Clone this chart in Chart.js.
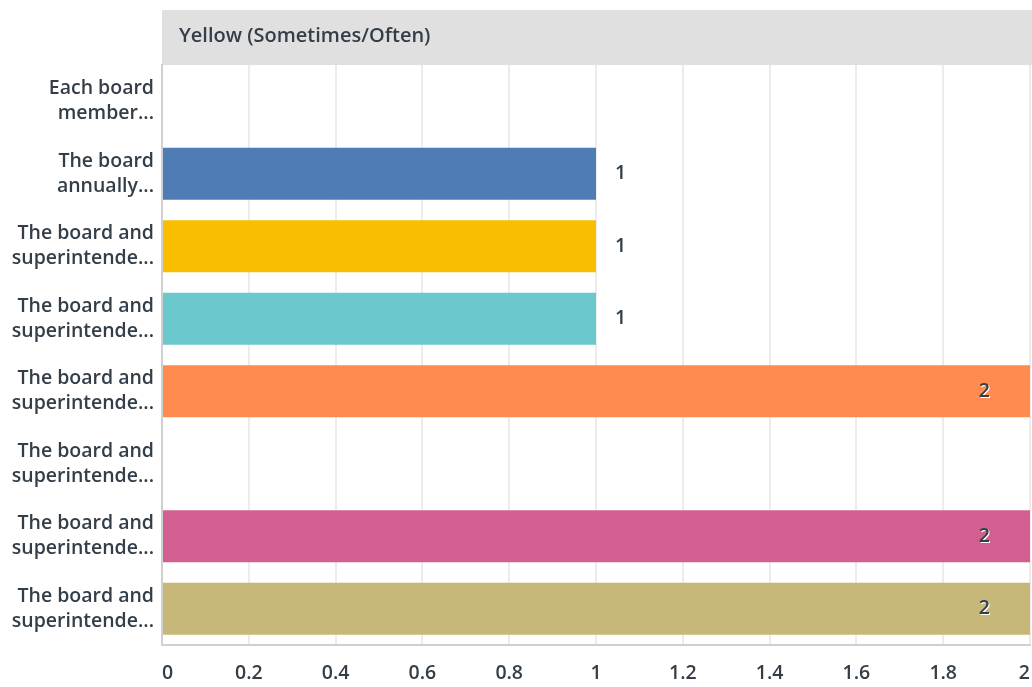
<!DOCTYPE html>
<html>
<head>
<meta charset="utf-8">
<script src="https://cdn.jsdelivr.net/npm/chart.js@4/dist/chart.umd.min.js"></script>
<style>
  html, body { margin: 0; padding: 0; background: #fff; }
  #wrap { width: 1032px; height: 687px; }
</style>
</head>
<body>
<div id="wrap"><canvas id="c"></canvas></div>
<script>
const categories = [
  ["Each board", "member..."],
  ["The board", "annually..."],
  ["The board and", "superintende..."],
  ["The board and", "superintende..."],
  ["The board and", "superintende..."],
  ["The board and", "superintende..."],
  ["The board and", "superintende..."],
  ["The board and", "superintende..."]
];
const counts = [0, 1, 1, 1, 2, 0, 2, 2];
const barColors = ["#507cb6", "#507cb6", "#f9be00", "#6bc8cd", "#ff8b4f", "#7e6bb0", "#d25f90", "#c7b879"];
const groupTitle = "Yellow (Sometimes/Often)";
const xTicks = [0, 0.2, 0.4, 0.6, 0.8, 1, 1.2, 1.4, 1.6, 1.8, 2];

const FONT = "'Open Sans', sans-serif";
const INK = "#333e48";

// gray band holding the group name above the plot
const headerBand = {
  id: "headerBand",
  beforeDraw(chart) {
    const { ctx, chartArea } = chart;
    ctx.save();
    ctx.fillStyle = "#e0e0e0";
    ctx.fillRect(chartArea.left, 10, chart.width - chartArea.left, chartArea.top - 10);
    ctx.fillStyle = INK;
    ctx.font = "600 20px " + FONT;
    ctx.textBaseline = "middle";
    ctx.fillText(groupTitle, chartArea.left + 17, 36);
    ctx.restore();
  }
};

// count labels: outside short bars, inside (with white halo) when the bar reaches the edge
const valueLabels = {
  id: "valueLabels",
  afterDatasetsDraw(chart) {
    const { ctx, chartArea } = chart;
    const meta = chart.getDatasetMeta(0);
    ctx.save();
    ctx.font = "600 19.5px " + FONT;
    ctx.textBaseline = "middle";
    meta.data.forEach((bar, i) => {
      const v = counts[i];
      if (!v) return;
      const txt = String(v);
      if (bar.x > chartArea.right - 40) {
        ctx.textAlign = "right";
        const x = bar.x - 40, y = bar.y;
        ctx.fillStyle = "#ffffff";
        ctx.fillText(txt, x + 1, y + 1);
        ctx.fillStyle = INK;
        ctx.fillText(txt, x, y);
      } else {
        ctx.textAlign = "left";
        ctx.fillStyle = INK;
        ctx.fillText(txt, bar.x + 19, bar.y);
      }
    });
    ctx.restore();
  }
};

new Chart(document.getElementById("c"), {
  type: "bar",
  data: {
    labels: categories,
    datasets: [{
      data: counts,
      backgroundColor: barColors,
      borderWidth: 0,
      categoryPercentage: 0.72,
      barPercentage: 1
    }]
  },
  options: {
    indexAxis: "y",
    responsive: true,
    maintainAspectRatio: false,
    animation: false,
    layout: { padding: { top: 65, right: 2, bottom: 2, left: 0 } },
    plugins: { legend: { display: false }, tooltip: { enabled: false } },
    scales: {
      x: {
        min: 0,
        max: 2,
        afterBuildTicks(scale) { scale.ticks = xTicks.map(v => ({ value: v })); },
        afterFit(scale) {
          scale.height = 40;
          scale.paddingLeft = 0;
          scale.paddingRight = 0;
        },
        grid: { color: "#ececec", lineWidth: 2, drawTicks: false },
        border: { color: "#d0d0d0", width: 2 },
        ticks: {
          color: INK,
          font: { family: FONT, size: 19.5, weight: "600" },
          padding: 17,
          align: "inner",
          maxRotation: 0,
          callback: v => String(v)
        }
      },
      y: {
        grid: { display: false, drawTicks: false },
        border: { color: "#d0d0d0", width: 2 },
        afterFit(scale) { scale.width = 162; },
        ticks: {
          color: INK,
          font: { family: FONT, size: 19.5, weight: "600", lineHeight: 1.3 },
          padding: 8
        }
      }
    }
  },
  plugins: [headerBand, valueLabels]
});
</script>
</body>
</html>
